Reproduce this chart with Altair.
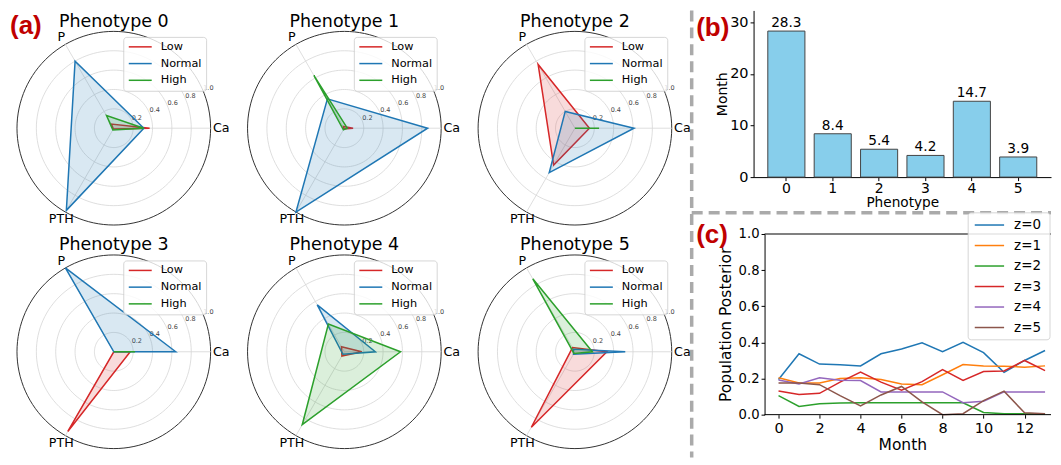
import altair as alt
import pandas as pd

# ---------------- data ----------------
axes_names = ["Ca", "P", "PTH"]
axis_angles = [0, 120, 240]
levels = ["Low", "Normal", "High"]
level_colors = ["#d62728", "#1f77b4", "#2ca02c"]
r_ticks = [0.2, 0.4, 0.6, 0.8, 1.0]
phenotype_titles = ["Phenotype 0", "Phenotype 1", "Phenotype 2",
                    "Phenotype 3", "Phenotype 4", "Phenotype 5"]

# values per phenotype, in order [Ca, P, PTH]
low_vals = [[0.37, 0.05, 0.01], [0.09, 0.02, 0.01], [0.15, 0.76, 0.44],
            [0.17, 0.00, 0.95], [0.18, 0.06, 0.05], [0.33, 0.05, 0.90]]
normal_vals = [[0.31, 0.80, 0.98], [0.86, 0.35, 1.00], [0.61, 0.20, 0.53],
               [0.64, 1.00, 0.00], [0.32, 0.56, 0.03], [0.52, 0.03, 0.03]]
high_vals = [[0.31, 0.15, 0.02], [0.03, 0.63, 0.02], [0.25, 0.00, 0.00],
             [0.22, 0.00, 0.00], [0.58, 0.33, 0.87], [0.18, 0.87, 0.02]]

phenotypes = [0, 1, 2, 3, 4, 5]
duration_months = [28.3, 8.4, 5.4, 4.2, 14.7, 3.9]

months = list(range(14))
series_names = ["z=0", "z=1", "z=2", "z=3", "z=4", "z=5"]
series_colors = ["#1f77b4", "#ff7f0e", "#2ca02c", "#d62728", "#9467bd", "#8c564b"]
z0 = [0.195, 0.337, 0.28, 0.276, 0.27, 0.337, 0.363, 0.398, 0.348, 0.40, 0.343, 0.234, 0.30, 0.355]
z1 = [0.204, 0.175, 0.175, 0.20, 0.204, 0.195, 0.17, 0.166, 0.221, 0.277, 0.27, 0.268, 0.263, 0.27]
z2 = [0.105, 0.045, 0.06, 0.064, 0.066, 0.066, 0.066, 0.066, 0.066, 0.066, 0.012, 0.005, 0.005, 0.005]
z3 = [0.131, 0.112, 0.118, 0.18, 0.235, 0.18, 0.135, 0.183, 0.25, 0.19, 0.239, 0.242, 0.30, 0.244]
z4 = [0.192, 0.17, 0.204, 0.19, 0.189, 0.126, 0.126, 0.126, 0.126, 0.066, 0.074, 0.126, 0.126, 0.126]
z5 = [0.175, 0.175, 0.166, 0.105, 0.048, 0.109, 0.156, 0.071, 0.0, 0.005, 0.078, 0.13, 0.01, 0.005]
series_vals = [z0, z1, z2, z3, z4, z5]

# ---------------- tables ----------------
rows = []
for k in phenotypes:
    for lev, vals in zip(levels, [low_vals, normal_vals, high_vals]):
        for ai, (an, ang) in enumerate(zip(axes_names, axis_angles)):
            rows.append({"phen": k, "level": lev, "axis": an, "ai": ai,
                         "ang": ang, "v": vals[k][ai]})
radar_df = pd.DataFrame(rows)
tick_df = pd.DataFrame({"r": r_ticks})
axes_df = pd.DataFrame({"axis": axes_names, "ang": axis_angles})
lev_df = pd.DataFrame({"level": levels})
one = pd.DataFrame({"k": [0]})

line_rows = []
for s, vals in zip(series_names, series_vals):
    for m, v in zip(months, vals):
        line_rows.append({"series": s, "month": m, "value": v})
line_df = pd.DataFrame(line_rows)
bar_df = pd.DataFrame({"phen": phenotypes, "month": duration_months})
ser_df = pd.DataFrame({"series": series_names})

FONT = "DejaVu Sans"
LABEL_RED = "#c00000"

# ---------------- radar panels ----------------
R = 97.0
PW, PH = 231, 224
CX, CY = 106, 118
cscale = alt.Scale(domain=levels, range=level_colors)


def radar_panel(k, width):
    xs = alt.Scale(domain=[-CX / R, (width - CX) / R], nice=False, zero=False)
    ys = alt.Scale(domain=[-(PH - CY) / R, CY / R], nice=False, zero=False)

    def X(f):
        return alt.X(f, type="quantitative", scale=xs, axis=None)

    def Y(f):
        return alt.Y(f, type="quantitative", scale=ys, axis=None)

    circles = alt.Chart(tick_df).transform_calculate(
        ang="sequence(0, 361, 3)"
    ).transform_flatten(["ang"]).transform_calculate(
        gx="datum.r*cos(datum.ang*PI/180)",
        gy="datum.r*sin(datum.ang*PI/180)",
    )
    inner = circles.transform_filter("datum.r < 0.99").mark_line(
        stroke="#d6d6d6", strokeWidth=0.8
    ).encode(x=X("gx"), y=Y("gy"), detail="r:N", order="ang:Q")
    outer = circles.transform_filter("datum.r >= 0.99").mark_line(
        stroke="#333333", strokeWidth=1.0
    ).encode(x=X("gx"), y=Y("gy"), detail="r:N", order="ang:Q")
    spokes = alt.Chart(axes_df).transform_calculate(
        z="0", sx="cos(datum.ang*PI/180)", sy="sin(datum.ang*PI/180)"
    ).mark_rule(stroke="#d6d6d6", strokeWidth=0.8).encode(
        x=X("z"), y=Y("z"), x2="sx:Q", y2="sy:Q")
    rlabels = alt.Chart(tick_df).transform_calculate(
        tx="datum.r*cos(22.5*PI/180)", ty="datum.r*sin(22.5*PI/180)",
        lab="format(datum.r, '.1f')"
    ).mark_text(align="left", baseline="bottom", fontSize=6.5,
                color="#444444", font=FONT).encode(
        x=X("tx"), y=Y("ty"), text="lab:N")
    alabels = alt.Chart(axes_df).transform_calculate(
        lr="datum.ang == 0 ? 1.11 : 1.085",
        tx="datum.lr*cos(datum.ang*PI/180)", ty="datum.lr*sin(datum.ang*PI/180)"
    ).mark_text(align="center", baseline="middle", fontSize=12.7,
                font=FONT, color="black").encode(
        x=X("tx"), y=Y("ty"), text="axis:N")
    polys = alt.Chart(radar_df).transform_filter(
        alt.datum.phen == k
    ).transform_calculate(
        px="datum.v*cos(datum.ang*PI/180)", py="datum.v*sin(datum.ang*PI/180)"
    ).mark_line(interpolate="linear-closed", strokeWidth=1.5,
                fillOpacity=0.17).encode(
        x=X("px"), y=Y("py"),
        color=alt.Color("level:N", scale=cscale, legend=None),
        fill=alt.Fill("level:N", scale=cscale, legend=None),
        detail="level:N", order="ai:Q")
    box = alt.Chart(one).mark_rect(
        fill="white", fillOpacity=0.8, stroke="#cccccc", strokeWidth=0.8,
        cornerRadius=3).encode(
        x=alt.value(116), x2=alt.value(199), y=alt.value(27), y2=alt.value(81))
    ly = alt.Y("level:N", sort=levels, axis=None,
               scale=alt.Scale(type="point", domain=levels,
                               range=[36.5, 70], padding=0))
    leg_lines = alt.Chart(lev_df).mark_rule(strokeWidth=1.5).encode(
        x=alt.value(121), x2=alt.value(144), y=ly,
        color=alt.Color("level:N", scale=cscale, legend=None))
    leg_text = alt.Chart(lev_df).mark_text(
        align="left", baseline="middle", fontSize=11.3, font=FONT,
        color="black").encode(x=alt.value(153), y=ly, text="level:N")
    title = alt.Chart(one).mark_text(
        align="center", baseline="alphabetic", fontSize=17.5, font=FONT,
        color="black", text=phenotype_titles[k]).encode(
        x=alt.value(CX), y=alt.value(16.5))
    layers = [inner, outer, spokes, rlabels, alabels, polys,
              box, leg_lines, leg_text, title]
    if k == 0:
        layers.append(alt.Chart(one).mark_text(
            align="left", baseline="alphabetic", fontSize=26,
            fontWeight="bold", font="Liberation Sans", color=LABEL_RED,
            text="(a)").encode(x=alt.value(2), y=alt.value(24)))
    return alt.layer(*layers).resolve_scale(y="independent").properties(
        width=width, height=PH)


# ---------------- bar chart (b) ----------------
BW, BH = 298, 167
bx = alt.X("phen:O", scale=alt.Scale(paddingInner=0.2, paddingOuter=0.307),
           axis=alt.Axis(title="Phenotype", labelAngle=0, labelFontSize=14,
                         titleFontSize=13.7, labelPadding=1, titlePadding=0,
                         tickSize=3.5))
by = alt.Y("month:Q", scale=alt.Scale(domain=[0, 32.3], nice=False),
           axis=alt.Axis(values=[0, 10, 20, 30], title="Month",
                         labelFontSize=14.5, titleFontSize=14,
                         labelPadding=2, titlePadding=0, tickSize=3.5))
bars = alt.Chart(bar_df).mark_bar(color="#87ceeb", stroke="#444444",
                                  strokeWidth=1).encode(x=bx, y=by)
bar_text = alt.Chart(bar_df).mark_text(
    baseline="bottom", dy=-1, fontSize=13.7, font=FONT, color="black").encode(
    x=bx, y=by, text=alt.Text("month:Q", format=".1f"))
vsep = alt.Chart(one).mark_rule(stroke="#aaaaaa", strokeWidth=3.5,
                                strokeDash=[11, 6]).encode(
    x=alt.value(-62), y=alt.value(0), y2=alt.value(448))
hsep = alt.Chart(one).mark_rule(stroke="#aaaaaa", strokeWidth=3.5,
                                strokeDash=[11, 6]).encode(
    x=alt.value(-62), x2=alt.value(BW), y=alt.value(202.8))
lab_b = alt.Chart(one).mark_text(
    align="left", baseline="alphabetic", fontSize=26, fontWeight="bold",
    font="Liberation Sans", color=LABEL_RED, text="(b)").encode(
    x=alt.value(-57.5), y=alt.value(25.8))
bar_chart = alt.layer(bars, bar_text, vsep, hsep, lab_b).properties(
    width=BW, height=BH)

# ---------------- line chart (c) ----------------
LW, LH = 298, 181
AX_OFF = 11          # y axis sits 11px right of the plot's left edge
DY = -5              # layout shift relative to plot top
lx = alt.X("month:Q", scale=alt.Scale(domain=[-1.217, 13.29], nice=False, zero=False),
           axis=alt.Axis(values=[0, 2, 4, 6, 8, 10, 12], title="Month",
                         labelFontSize=14.5, titleFontSize=15.5, domain=False,
                         labelPadding=3, titlePadding=3, tickSize=3.5))
lyy = alt.Y("value:Q", scale=alt.Scale(domain=[0, 1], nice=False),
            axis=alt.Axis(values=[0, 0.2, 0.4, 0.6, 0.8, 1.0], format=".1f",
                          title="Population Posterior", labelFontSize=13.2,
                          titleFontSize=15.5, labelPadding=2, titlePadding=5,
                          tickSize=3.5, offset=-AX_OFF))
sscale = alt.Scale(domain=series_names, range=series_colors)
lines = alt.Chart(line_df).mark_line(strokeWidth=1.5).encode(
    x=lx, y=lyy, color=alt.Color("series:N", scale=sscale, legend=None))
top_spine = alt.Chart(one).mark_rule(stroke="black", strokeWidth=1).encode(
    x=alt.value(AX_OFF), x2=alt.value(LW), y=alt.value(0))
bottom_spine = alt.Chart(one).mark_rule(stroke="black", strokeWidth=1).encode(
    x=alt.value(AX_OFF), x2=alt.value(LW), y=alt.value(LH))
lbox = alt.Chart(one).mark_rect(
    fill="white", fillOpacity=0.85, stroke="#cccccc", strokeWidth=0.8,
    cornerRadius=3).encode(
    x=alt.value(215), x2=alt.value(297), y=alt.value(-16.2 + DY),
    y2=alt.value(111 + DY))
sy = alt.Y("series:N", sort=series_names, axis=None,
           scale=alt.Scale(type="point", domain=series_names,
                           range=[-4 + DY, 98.7 + DY], padding=0))
l_lines = alt.Chart(ser_df).mark_rule(strokeWidth=1.5).encode(
    x=alt.value(221.6), x2=alt.value(251), y=sy,
    color=alt.Color("series:N", scale=sscale, legend=None))
l_text = alt.Chart(ser_df).mark_text(
    align="left", baseline="middle", fontSize=13.5, font=FONT,
    color="black").encode(x=alt.value(261), y=sy, text="series:N")
lab_c = alt.Chart(one).mark_text(
    align="left", baseline="alphabetic", fontSize=26, fontWeight="bold",
    font="Liberation Sans", color=LABEL_RED, text="(c)").encode(
    x=alt.value(-57.5), y=alt.value(14.4 + DY))
line_chart = alt.layer(lines, top_spine, bottom_spine, lbox, l_lines, l_text,
                       lab_c).resolve_scale(y="independent").properties(
    width=LW, height=LH)

# ---------------- layout: one 4-column grid ----------------
panels = [radar_panel(0, PW), radar_panel(1, PW), radar_panel(2, 285), bar_chart,
          radar_panel(3, PW), radar_panel(4, PW), radar_panel(5, 285), line_chart]

chart = alt.concat(*panels, columns=4, spacing=0, bounds="flush",
                   align="each").resolve_scale(
    color="independent", fill="independent"
).properties(padding=0).configure(font=FONT).configure_view(
    stroke=None
).configure_axis(
    grid=False, domainColor="black", tickColor="black", labelColor="black",
    titleColor="black", titleFontWeight="normal", domainWidth=1, tickWidth=1,
    labelFont=FONT, titleFont=FONT
)

chart.save("out.html", embed_options={"renderer": "svg", "actions": False})
